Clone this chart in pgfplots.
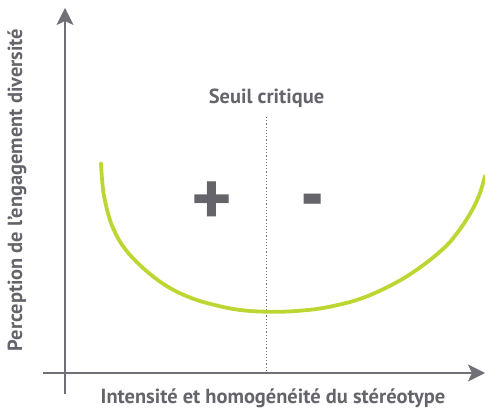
\documentclass[border=0pt]{standalone}
\usepackage{fontspec}
\setmainfont{PT Sans}
\usepackage{pgfplots}
\pgfplotsset{compat=1.18}
\usetikzlibrary{arrows.meta}
\definecolor{lime}{RGB}{190,214,52}
\definecolor{txtgray}{RGB}{100,100,106}
\definecolor{axgray}{RGB}{112,112,118}

\begin{document}
\begin{tikzpicture}
\useasboundingbox (0,0) rectangle (485bp,412bp);
\begin{axis}[
  scale only axis, width=485bp, height=412bp,
  xmin=0, xmax=485, ymin=0, ymax=412,
  hide axis, clip=false,
]
  % axes
  \draw[axgray, line width=1.8bp, -{Stealth[length=17bp,width=17bp,inset=4bp]}]
    (axis cs:65,18) -- (axis cs:65,404);
  \draw[axgray, line width=1.8bp, -{Stealth[length=17bp,width=17bp,inset=4bp]}]
    (axis cs:43,39) -- (axis cs:485,39);

  % threshold
  \draw[axgray, line width=1.3bp, dash pattern=on 1.2bp off 2bp]
    (axis cs:266.5,295) -- (axis cs:266.5,40);

  % U-curve
  \addplot[lime, line width=3.8bp, smooth, line cap=round] coordinates {
    (101,248.7) (101.7,237) (103.3,220.3) (106.7,203.7) (111.7,187)
    (120,170.3) (130,157) (143.3,143.7) (160,130.3) (176.7,120.3)
    (196.7,112) (216.7,106.5) (233.3,103) (250,101) (266.7,100.3)
    (283.3,100.3) (300,101.3) (316.7,103) (333.3,106) (350,110)
    (366.7,115.5) (386.7,124.5) (403.3,133.5) (420,144.5) (436.7,157.5)
    (450,170) (463.3,187.5) (473.3,204) (480,219) (485,236)
  };

  % labels
  \node[txtgray, font=\bfseries\fontsize{20.5}{22}\selectfont] at (axis cs:266.5,314) {Seuil critique};
  \node[txtgray, font=\bfseries\fontsize{20.5}{22}\selectfont] at (axis cs:273,14) {Intensité et homogénéité du stéréotype};
  \node[txtgray, font=\bfseries\fontsize{20.5}{22}\selectfont, rotate=90] at (axis cs:17,222) {Perception de l'engagement diversité};
  \node[txtgray, anchor=base, inner sep=0pt, font=\bfseries\fontsize{78}{78}\selectfont] at (axis cs:211.7,186) {+};
  \node[txtgray, anchor=base, inner sep=0pt, font=\bfseries\fontsize{68}{68}\selectfont] at (axis cs:312.3,187) {\scalebox{1}[1.3]{-}};
\end{axis}
\end{tikzpicture}
\end{document}
